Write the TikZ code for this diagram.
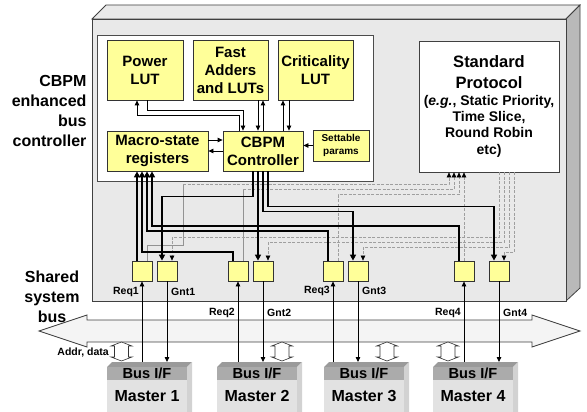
\documentclass[tikz,border=0pt]{standalone}
\usepackage{fontspec}
\setmainfont{Liberation Sans}
\usetikzlibrary{arrows.meta}
\definecolor{ylw}{HTML}{FFFF99}
\definecolor{frontg}{HTML}{E9E9E9}
\definecolor{sideg}{HTML}{B9B9B9}
\definecolor{busg}{HTML}{F4F4F4}
\definecolor{bifg}{HTML}{ABABAB}
\definecolor{mastg}{HTML}{E2E2E2}
\definecolor{bevg}{HTML}{9A9A9A}
\definecolor{msideg}{HTML}{D2D2D2}
\begin{document}
\begin{tikzpicture}[x=1pt,y=-1pt,font=\bfseries,
  ybox/.style={draw=black!80,fill=ylw,line width=0.8pt,inner sep=0pt,align=center,font=\bfseries\fontsize{15}{18}\selectfont},
  sbox/.style={draw=black!80,fill=ylw,line width=0.8pt,inner sep=0pt,minimum width=20pt,minimum height=20pt},
  thk/.style={line width=1.8pt,-{Triangle[length=6pt,width=6pt]}},
  thn/.style={line width=0.8pt,-{Triangle[length=5pt,width=4.5pt]}},
  dsh/.style={draw=gray!75,dash pattern=on 3pt off 1.5pt,line width=0.6pt,arrows={-{Triangle[length=5pt,width=4.5pt,color=black]}}},
  sol/.style={draw=gray!85,line width=0.7pt},
  sig/.style={font=\bfseries\fontsize{10.5}{12}\selectfont,inner sep=0pt},
  bifbox/.style={fill=bifg,inner sep=0pt,minimum width=80pt,minimum height=13pt,font=\bfseries\fontsize{14.6}{16}\selectfont},
  mbox/.style={fill=mastg,inner sep=0pt,minimum width=80pt,minimum height=32pt,font=\bfseries\fontsize{16}{18}\selectfont},
  dbl/.style={draw=black!80,fill=white,line width=0.6pt}]
\useasboundingbox (0,0) rectangle (587,412);
% main 3D box
\fill[frontg,draw=black!75,line width=0.8pt] (92,19) -- (106,5) -- (580,5) -- (566,19) -- cycle;
\fill[sideg,draw=black!75,line width=0.8pt] (566,19) -- (580,5) -- (580,288) -- (566,301) -- cycle;
\node[draw=black!75,fill=frontg,line width=0.8pt,minimum width=474pt,minimum height=282pt,inner sep=0pt] (main) at (329,160) {};
\node[draw=black!70,fill=white,line width=0.8pt,minimum width=276pt,minimum height=146pt,inner sep=0pt] (inner) at (235,108) {};
% left labels
\node[align=right,anchor=east,font=\bfseries\fontsize{16}{20}\selectfont] (lblc) at (90,111) {CBPM\\enhanced\\bus\hspace*{4.5pt}\\controller};
\node[align=center,font=\bfseries\fontsize{16}{20}\selectfont] (lbls) at (52,297) {Shared\\system\\bus};
% yellow blocks
\node[ybox,minimum width=76pt,minimum height=60pt] (power) at (145,70) {Power\\LUT};
\node[ybox,minimum width=75pt,minimum height=60pt] (fast) at (230.5,70) {Fast\\Adders\\and LUTs};
\node[ybox,minimum width=75pt,minimum height=60pt] (crit) at (315.5,70) {Criticality\\LUT};
\node[ybox,minimum width=101pt,minimum height=40pt] (macro) at (157.5,151) {Macro-state\\registers};
\node[ybox,minimum width=80pt,minimum height=40pt] (ctrl) at (263,151) {CBPM\\Controller};
\node[ybox,minimum width=56pt,minimum height=31pt,font=\bfseries\fontsize{10}{12.7}\selectfont] (sett) at (341,145.5) {Settable\\params};
\node[draw=black!75,fill=white,line width=0.8pt,minimum width=140pt,minimum height=131pt,inner sep=0pt,align=center,font=\bfseries\fontsize{14}{16.3}\selectfont] (std) at (489,106.5) {{\fontsize{16.5}{16.3}\selectfont Standard}\\[4.7pt]{\fontsize{16.5}{16.3}\selectfont Protocol}\\(\textit{e.g.}, Static Priority,\\Time Slice,\\Round Robin\\etc)};
% inner arrows
\draw[thn] ([xshift=2pt]power.south) -- ++(0,10) -| ([xshift=-20pt]ctrl.north);
\draw[thn] ([xshift=-24pt]ctrl.north) -- ++(0,-15) -| ([xshift=-8pt]power.south);
\draw[thn] ([xshift=27.5pt]fast.south) -- ([xshift=-5pt]ctrl.north);
\draw[thn] (ctrl.north) -- ([xshift=32.5pt]fast.south);
\draw[thn] ([xshift=20pt]ctrl.north) -- ([xshift=-32.5pt]crit.south);
\draw[thn] ([xshift=-26.5pt]crit.south) -- ([xshift=26pt]ctrl.north);
\draw[thn] ([yshift=11pt]macro.east) -- ([yshift=11pt]ctrl.west);
\draw[thn] (ctrl.west) -- (macro.east);
\draw[thn] (sett.west) -- (sett.west -| ctrl.east);
% req / gnt boxes
\node[sbox] (req1) at (142,271) {};
\node[sbox] (gnt1) at (167,271) {};
\node[sbox] (req2) at (238,271) {};
\node[sbox] (gnt2) at (263,271) {};
\node[sbox] (req3) at (333,271) {};
\node[sbox] (gnt3) at (358,271) {};
\node[sbox] (req4) at (464,271) {};
\node[sbox] (gnt4) at (499,271) {};
% lines to / from standard protocol
\draw[sol] ([xshift=5pt]req1.north) -- ++(0,-15) -- ++(36,0) -- ++(0,-61) coordinate (r1k);
\draw[dsh] (r1k) -| ([xshift=-40pt]std.south);
\draw[sol] ([xshift=5pt]req2.north) -- ++(0,-71) coordinate (r2k);
\draw[dsh] (r2k) -| ([xshift=-35pt]std.south);
\draw[dsh] ([xshift=5pt]req3.north) -- ++(0,-66) -| ([xshift=-30pt]std.south);
\draw[dsh] (req4.north) -- (req4.north |- std.south);
\draw[dsh] ([xshift=10pt]std.south) -- ++(0,65) -| ([xshift=5pt]gnt1.north);
\draw[dsh] ([xshift=15pt]std.south) -- ++(0,70) -| ([xshift=5pt]gnt2.north);
\draw[dsh] ([xshift=20pt]std.south) -- ++(0,75) -| ([xshift=5pt]gnt3.north);
\draw[dsh] ([xshift=25pt]std.south) -- ++(0,80) -| ([xshift=5pt]gnt4.north);
% thick lines: req -> macro
\draw[thk] ([xshift=-5pt]req1.north) -- ([xshift=-20.5pt]macro.south);
\draw[thk] ([xshift=-5pt]req2.north) -- ++(0,-9) -| ([xshift=-15.5pt]macro.south);
\draw[thk] ([xshift=-5pt]req3.north) -- ++(0,-30) -| ([xshift=-10.5pt]macro.south);
\draw[thk] ([xshift=-5pt]req4.north) -- ++(0,-35) -| ([xshift=-5.5pt]macro.south);
% thick lines: controller -> gnt
\draw[thk] ([xshift=-10pt]ctrl.south) -- ++(0,25) -| ([xshift=-5pt]gnt1.north);
\draw[thk] ([xshift=-5pt]ctrl.south) -- ([xshift=-5pt]gnt2.north);
\draw[thk] (ctrl.south) -- ++(0,40) -| ([xshift=-5pt]gnt3.north);
\draw[thk] ([xshift=5pt]ctrl.south) -- ++(0,35) -| ([xshift=-5pt]gnt4.north);
% signal labels
\node[sig,anchor=east] (lr1) at (139,292) {Req1};
\node[sig,anchor=west] (lg1) at (171,292) {Gnt1};
\node[sig,anchor=east] (lr2) at (235,313) {Req2};
\node[sig,anchor=west] (lg2) at (267,313) {Gnt2};
\node[sig,anchor=east] (lr3) at (330,291) {Req3};
\node[sig,anchor=west] (lg3) at (362,291) {Gnt3};
\node[sig,anchor=east] (lr4) at (461,313) {Req4};
\node[sig,anchor=west] (lg4) at (503,313) {Gnt4};
% shared bus arrow
\draw[fill=busg,draw=black!75,line width=0.8pt] (39,331) -- (87,315) -- (87,320) -- (532,320) -- (532,315) -- (580,331) -- (532,347) -- (532,342) -- (87,342) -- (87,347) -- cycle;
% masters
\foreach \x/\i in {107/1,217/2,324/3,433/4}{
  \fill[bevg] (\x,367) -- (\x+5,362) -- (\x+85,362) -- (\x+80,367) -- cycle;
  \fill[msideg] (\x+80,367) -- (\x+85,362) -- (\x+85,412) -- (\x+80,412) -- cycle;
  \node[bifbox] (bif\i) at (\x+40,373.5) {Bus I/F};
  \node[mbox] (mas\i) at (\x+40,396) {Master \i};
  \coordinate (top\i) at (\x+40,362);
}
% addr/data double arrows
\foreach \c in {121.5,282,387,448}{
  \draw[dbl] (\c,342) -- (\c+10.5,346) -- (\c+7,346) -- (\c+7,357) -- (\c+10.5,357) -- (\c,361) -- (\c-10.5,357) -- (\c-7,357) -- (\c-7,346) -- (\c-10.5,346) -- cycle;
}
\node[sig,anchor=east] (lad) at (109,353) {Addr, data};
% master req / gnt
\draw[thn] (req1.south |- top1) -- (req1.south);
\draw[thn] (gnt1.south) -- (gnt1.south |- top1);
\draw[thn] (req2.south |- top2) -- (req2.south);
\draw[thn] (gnt2.south) -- (gnt2.south |- top2);
\draw[thn] (req3.south |- top3) -- (req3.south);
\draw[thn] (gnt3.south) -- (gnt3.south |- top3);
\draw[thn] (req4.south |- top4) -- (req4.south);
\draw[thn] (gnt4.south) -- (gnt4.south |- top4);
\end{tikzpicture}
\end{document}
